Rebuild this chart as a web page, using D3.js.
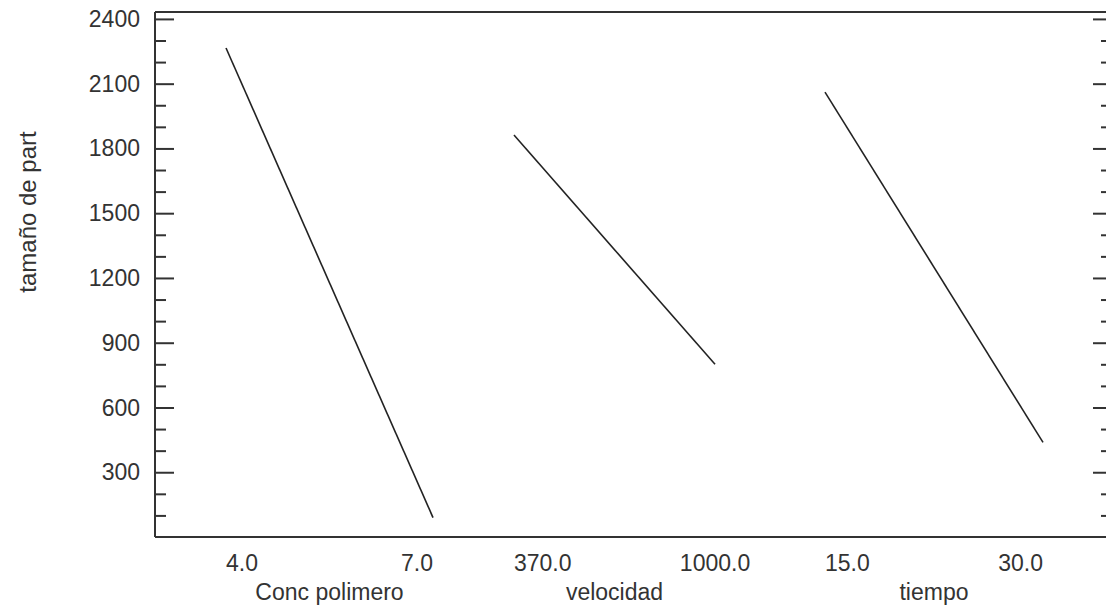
<!DOCTYPE html>
<html>
<head>
<meta charset="utf-8">
<script src="https://cdn.jsdelivr.net/npm/d3@7"></script>
<style>
  html, body { margin: 0; padding: 0; background: #fff; }
  svg { display: block; }
  text { font-family: "Liberation Sans", Arial, sans-serif; fill: #333; }
</style>
</head>
<body>
<svg id="chart" width="1106" height="609"></svg>
<script>
// Main effects for particle size
const factors = ["Conc polimero", "velocidad", "tiempo"];
const lowLevels = [4.0, 370.0, 15.0];
const highLevels = [7.0, 1000.0, 30.0];
const meanAtLow = [2265, 1862, 2061];
const meanAtHigh = [90, 800, 438];
const yTicks = [300, 600, 900, 1200, 1500, 1800, 2100, 2400];
const yMinorStep = 100;
const yLabel = "tamaño de part";

// Layout
const W = 1106, H = 609;
const frame = { left: 155, right: 1112, top: 12, bottom: 537 };
// Horizontal extent of each factor's segment, as a fraction of the frame width
const segmentFrac = [[0.0742, 0.2905], [0.3751, 0.5852], [0.7001, 0.9279]];
const labelAnchor = [["start", "end"], ["start", "middle"], ["start", "end"]];
const fontSize = 23;

const svg = d3.select("#chart");

const y = d3.scaleLinear().domain([0, 2432]).range([frame.bottom, frame.top]);
const xFrame = d3.scaleLinear().domain([0, 1]).range([frame.left, frame.right]);

const ink = "#333";

// Frame: left, top, bottom and right lines (right edge lies just beyond the canvas)
const g = svg.append("g");
g.append("line").attr("x1", frame.left).attr("x2", frame.left)
  .attr("y1", frame.top).attr("y2", frame.bottom)
  .attr("stroke", ink).attr("stroke-width", 2);
g.append("line").attr("x1", frame.left).attr("x2", frame.right)
  .attr("y1", frame.top).attr("y2", frame.top)
  .attr("stroke", ink).attr("stroke-width", 2);
g.append("line").attr("x1", frame.left).attr("x2", frame.right)
  .attr("y1", frame.bottom).attr("y2", frame.bottom)
  .attr("stroke", ink).attr("stroke-width", 2);
g.append("line").attr("x1", frame.right).attr("x2", frame.right)
  .attr("y1", frame.top).attr("y2", frame.bottom)
  .attr("stroke", ink).attr("stroke-width", 2);

// Y axis: major ticks with labels, minor ticks in between (inward, both sides)
const minorTicks = d3.range(yMinorStep, 2400 + 1, yMinorStep).filter(v => !yTicks.includes(v));

const leftAxis = d3.axisRight(y).tickValues(yTicks).tickSize(19).tickFormat("");
const leftMinor = d3.axisRight(y).tickValues(minorTicks).tickSize(11).tickFormat("");
const rightAxis = d3.axisLeft(y).tickValues(yTicks).tickSize(19).tickFormat("");
const rightMinor = d3.axisLeft(y).tickValues(minorTicks).tickSize(11).tickFormat("");

[[leftAxis, frame.left], [leftMinor, frame.left], [rightAxis, frame.right], [rightMinor, frame.right]]
  .forEach(([ax, xPos]) => {
    const a = svg.append("g").attr("transform", `translate(${xPos},0)`).call(ax);
    a.select(".domain").remove();
    a.selectAll(".tick line").attr("stroke", ink).attr("stroke-width", 2);
  });

// Y tick labels
svg.append("g").selectAll("text").data(yTicks).join("text")
  .attr("x", frame.left - 15)
  .attr("y", d => y(d))
  .attr("dy", "0.35em")
  .attr("text-anchor", "end")
  .attr("font-size", fontSize)
  .text(d => d);

// Y axis title
svg.append("text")
  .attr("transform", `translate(36,212) rotate(-90)`)
  .attr("text-anchor", "middle")
  .attr("font-size", fontSize + 1)
  .text(yLabel);

// Factor segments
const fmt = d3.format(".1f");
factors.forEach((name, i) => {
  const x = d3.scaleLinear()
    .domain([lowLevels[i], highLevels[i]])
    .range([xFrame(segmentFrac[i][0]), xFrame(segmentFrac[i][1])]);

  const pts = [[lowLevels[i], meanAtLow[i]], [highLevels[i], meanAtHigh[i]]];
  svg.append("path")
    .attr("d", d3.line().x(d => x(d[0])).y(d => y(d[1]))(pts))
    .attr("fill", "none")
    .attr("stroke", "#222")
    .attr("stroke-width", 1.6);

  [lowLevels[i], highLevels[i]].forEach((lv, j) => {
    svg.append("text")
      .attr("x", x(lv))
      .attr("y", 571)
      .attr("text-anchor", labelAnchor[i][j])
      .attr("font-size", fontSize)
      .text(fmt(lv));
  });

  svg.append("text")
    .attr("x", (x(lowLevels[i]) + x(highLevels[i])) / 2)
    .attr("y", 600)
    .attr("text-anchor", "middle")
    .attr("font-size", fontSize)
    .text(name);
});
</script>
</body>
</html>
